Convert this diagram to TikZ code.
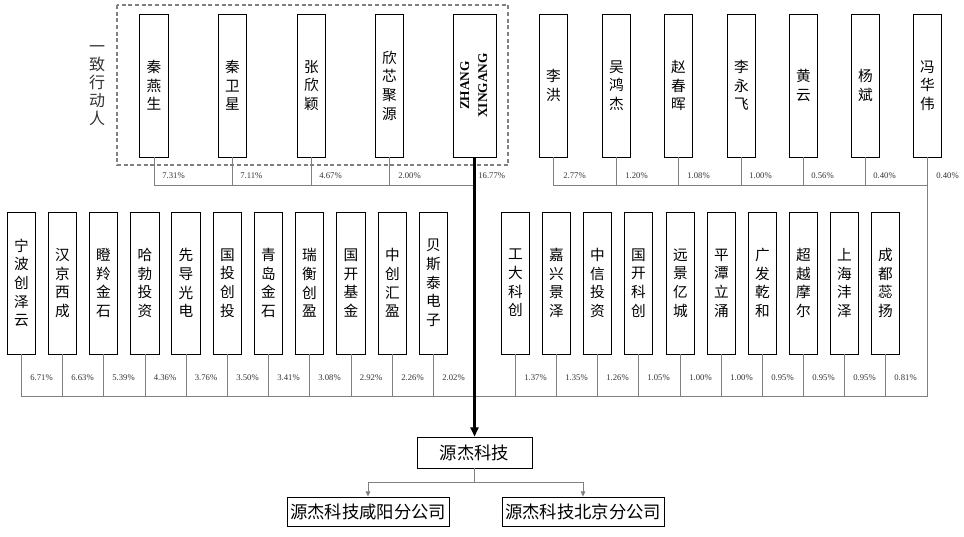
\documentclass[tikz,border=0pt]{standalone}
\usepackage{fontspec}
\setmainfont{Liberation Serif}
\newfontfamily\cjk{Noto Sans CJK SC}
\usetikzlibrary{arrows.meta}

\begin{document}
\begin{tikzpicture}[x=0.75pt,y=-0.75pt,line width=0.6pt,
    holder/.style={draw,fill=white,align=center,inner sep=0pt,minimum width=21.5pt,
      minimum height=107.25pt,font=\cjk\fontsize{11}{14}\selectfont},
    firm/.style={holder,minimum height=106.5pt},
    pct/.style={anchor=west,inner sep=0pt,text=black!80,font=\fontsize{6.5}{7}\selectfont},
    link/.style={draw=gray,line width=0.75pt},
    co/.style={draw,inner sep=0pt,minimum height=23.25pt,font=\cjk\fontsize{13}{14}\selectfont}]
  \useasboundingbox (0,0) rectangle (964,536);
  % acting in concert
  \draw[gray,line width=0.8pt,dash pattern=on 3pt off 2pt] (117,5) rectangle (508,165);
  \node[align=center,text=black!80,font=\cjk\fontsize{12}{13.5}\selectfont] (gp) at (97,86) {一\\致\\行\\动\\人};
      \node[holder] (t1) at (154,85.5) {秦\\燕\\生};
      \node[holder] (t2) at (232.5,85.5) {秦\\卫\\星};
      \node[holder] (t3) at (311.5,85.5) {张\\欣\\颖};
      \node[holder] (t4) at (389.5,85.5) {欣\\芯\\聚\\源};
      \node[holder,minimum width=32.25pt] (z) at (474.5,85.5)
        {\rotatebox{90}{\rmfamily\bfseries\fontsize{10}{13.5}\selectfont\begin{tabular}{@{}c@{}}ZHANG\\XINGANG\end{tabular}}};
  % other persons
      \node[holder] (r1) at (553.5,85.5) {李\\洪};
      \node[holder] (r2) at (616.5,85.5) {吴\\鸿\\杰};
      \node[holder] (r3) at (678.5,85.5) {赵\\春\\晖};
      \node[holder] (r4) at (741.5,85.5) {李\\永\\飞};
      \node[holder] (r5) at (803.5,85.5) {黄\\云};
      \node[holder] (r6) at (865.5,85.5) {杨\\斌};
      \node[holder] (r7) at (927.5,85.5) {冯\\华\\伟};
  % institutions
      \node[firm] (l1) at (21.5,283) {宁\\波\\创\\泽\\云};
      \node[firm] (l2) at (62.5,283) {汉\\京\\西\\成};
      \node[firm] (l3) at (103.5,283) {瞪\\羚\\金\\石};
      \node[firm] (l4) at (145,283) {哈\\勃\\投\\资};
      \node[firm] (l5) at (186,283) {先\\导\\光\\电};
      \node[firm] (l6) at (227.5,283) {国\\投\\创\\投};
      \node[firm] (l7) at (268.5,283) {青\\岛\\金\\石};
      \node[firm] (l8) at (309.5,283) {瑞\\衡\\创\\盈};
      \node[firm] (l9) at (351,283) {国\\开\\基\\金};
      \node[firm] (l10) at (392.5,283) {中\\创\\汇\\盈};
      \node[firm] (l11) at (433.5,283) {贝\\斯\\泰\\电\\子};
      \node[firm] (m1) at (515.5,283) {工\\大\\科\\创};
      \node[firm] (m2) at (556.5,283) {嘉\\兴\\景\\泽};
      \node[firm] (m3) at (597.5,283) {中\\信\\投\\资};
      \node[firm] (m4) at (638.5,283) {国\\开\\科\\创};
      \node[firm] (m5) at (680.5,283) {远\\景\\亿\\城};
      \node[firm] (m6) at (721.5,283) {平\\潭\\立\\涌};
      \node[firm] (m7) at (762.5,283) {广\\发\\乾\\和};
      \node[firm] (m8) at (803.5,283) {超\\越\\摩\\尔};
      \node[firm] (m9) at (844.5,283) {上\\海\\沣\\泽};
      \node[firm] (m10) at (885.5,283) {成\\都\\蕊\\扬};
  % company
      \node[co,minimum width=86.25pt] (main) at (474.5,452.5) {源杰科技};
      \node[co,minimum width=121.5pt,minimum height=21.75pt] (s1) at (368,511.5) {源杰科技咸阳分公司};
      \node[co,minimum width=121.5pt,minimum height=21.75pt] (s2) at (583,511.5) {源杰科技北京分公司};
  \coordinate (busT) at (0,185);
  \coordinate (busM) at (0,396);
  \coordinate (busS) at (0,482);
  \draw[link] (t1.south) |- (z.south |- busT) (t2.south)--(t2.south |- busT) (t3.south)--(t3.south |- busT)
    (t4.south)--(t4.south |- busT);
  \draw[link] (r1.south) |- (r7.south |- busT) (r2.south)--(r2.south |- busT) (r3.south)--(r3.south |- busT)
    (r4.south)--(r4.south |- busT) (r5.south)--(r5.south |- busT) (r6.south)--(r6.south |- busT)
    (r7.south)--(r7.south |- busM);
  \draw[link] (l1.south) |- (r7.south |- busM) (l2.south)--(l2.south |- busM) (l3.south)--(l3.south |- busM)
    (l4.south)--(l4.south |- busM) (l5.south)--(l5.south |- busM) (l6.south)--(l6.south |- busM)
    (l7.south)--(l7.south |- busM) (l8.south)--(l8.south |- busM) (l9.south)--(l9.south |- busM)
    (l10.south)--(l10.south |- busM) (l11.south)--(l11.south |- busM);
  \draw[link] (m1.south)--(m1.south |- busM) (m2.south)--(m2.south |- busM) (m3.south)--(m3.south |- busM)
    (m4.south)--(m4.south |- busM) (m5.south)--(m5.south |- busM) (m6.south)--(m6.south |- busM)
    (m7.south)--(m7.south |- busM) (m8.south)--(m8.south |- busM) (m9.south)--(m9.south |- busM)
    (m10.south)--(m10.south |- busM);
  \draw[line width=2.2pt,-{Triangle[length=7pt,width=6pt]}] (z.south)--(main.north);
  \draw[link,-{Triangle[length=4pt,width=3.5pt]}] (main.south)--(main.south |- busS) -| (s1.north);
  \draw[link,-{Triangle[length=4pt,width=3.5pt]}] (main.south |- busS) -| (s2.north);
  % shares
  \node[pct] at (162,176) {7.31\%};
  \node[pct] at (240,176) {7.11\%};
  \node[pct] at (319,176) {4.67\%};
  \node[pct] at (398,176) {2.00\%};
  \node[pct] at (478,176) {16.77\%};
  \node[pct] at (563,176) {2.77\%};
  \node[pct] at (625,176) {1.20\%};
  \node[pct] at (687,176) {1.08\%};
  \node[pct] at (749,176) {1.00\%};
  \node[pct] at (811,176) {0.56\%};
  \node[pct] at (873,176) {0.40\%};
  \node[pct] at (936,176) {0.40\%};
  \node[pct] at (30,378) {6.71\%};
  \node[pct] at (71,378) {6.63\%};
  \node[pct] at (112,378) {5.39\%};
  \node[pct] at (153.5,378) {4.36\%};
  \node[pct] at (194.5,378) {3.76\%};
  \node[pct] at (236,378) {3.50\%};
  \node[pct] at (277,378) {3.41\%};
  \node[pct] at (318,378) {3.08\%};
  \node[pct] at (359.5,378) {2.92\%};
  \node[pct] at (401,378) {2.26\%};
  \node[pct] at (442,378) {2.02\%};
  \node[pct] at (524,378) {1.37\%};
  \node[pct] at (565,378) {1.35\%};
  \node[pct] at (606,378) {1.26\%};
  \node[pct] at (647,378) {1.05\%};
  \node[pct] at (689,378) {1.00\%};
  \node[pct] at (730,378) {1.00\%};
  \node[pct] at (771,378) {0.95\%};
  \node[pct] at (812,378) {0.95\%};
  \node[pct] at (853,378) {0.95\%};
  \node[pct] at (894,378) {0.81\%};
\end{tikzpicture}
\end{document}
